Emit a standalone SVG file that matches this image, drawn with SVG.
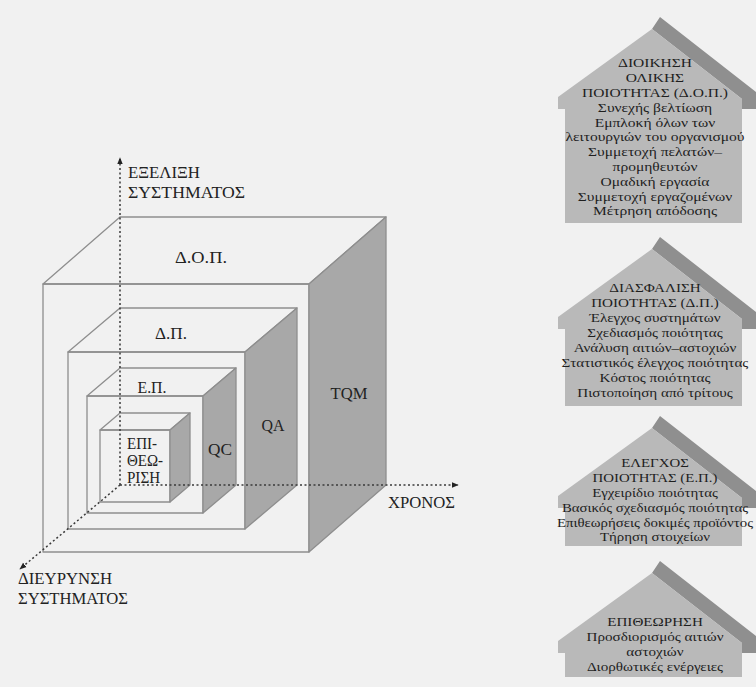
<svg xmlns="http://www.w3.org/2000/svg" width="756" height="687" viewBox="0 0 756 687">
<defs>
<style>
.bg{fill:#f1f1f1}
.edge{fill:none;stroke:#8e8e8e;stroke-width:1.3;stroke-linejoin:round}
.side{fill:#a8a8a8;stroke:#8e8e8e;stroke-width:1.3;stroke-linejoin:round}
.axis{fill:none;stroke:#3a3a3a;stroke-width:1.5;stroke-dasharray:2 2.5}
.t{font-family:"Liberation Serif","Times New Roman",serif;fill:#222}
.lab{font-size:16.5px;text-anchor:middle}
.ax{font-size:16px}
.h{font-size:13.5px;text-anchor:middle;fill:#1e1e1e}
.roofdark{fill:#8f8f8f}
.housebody{fill:#b9b9b9}
</style>
<marker id="arr" viewBox="0 0 10 10" refX="9" refY="5" markerWidth="7" markerHeight="7" orient="auto" markerUnits="userSpaceOnUse">
<path d="M0,1 L10,5 L0,9 Z" fill="#222"/>
</marker>
</defs>
<rect class="bg" x="0" y="0" width="756" height="687"/>

<g id="cube-dop">
<rect class="edge" x="43" y="284" width="266" height="268"/>
<polygon class="edge" points="43,284 120,217 386,217 309,284"/>
<polygon class="side" points="309,284 386,217 386,485 309,552"/>
<text class="t lab" x="201" y="263" textLength="52" lengthAdjust="spacingAndGlyphs">Δ.Ο.Π.</text>
<text class="t lab" x="349" y="399" textLength="37" lengthAdjust="spacingAndGlyphs">TQM</text>
</g>
<g id="cube-dp">
<rect class="edge" x="68" y="352" width="177" height="177"/>
<polygon class="edge" points="68,352 120,308 297,308 245,352"/>
<polygon class="side" points="245,352 297,308 297,485 245,529"/>
<text class="t lab" x="171" y="339" textLength="32" lengthAdjust="spacingAndGlyphs">Δ.Π.</text>
<text class="t lab" x="273" y="431" textLength="23" lengthAdjust="spacingAndGlyphs">QA</text>
</g>
<g id="cube-ep">
<rect class="edge" x="87" y="396" width="116" height="117"/>
<polygon class="edge" points="87,396 120,368 236,368 203,396"/>
<polygon class="side" points="203,396 236,368 236,485 203,513"/>
<text class="t lab" x="152" y="393" textLength="29" lengthAdjust="spacingAndGlyphs">Ε.Π.</text>
<text class="t lab" x="220" y="455" textLength="24" lengthAdjust="spacingAndGlyphs">QC</text>
</g>
<g id="cube-epitheorisi">
<rect class="edge" x="100" y="430" width="70" height="72"/>
<polygon class="edge" points="100,430 120,413 190,413 170,430"/>
<polygon class="side" points="170,430 190,413 190,485 170,502"/>
<text class="t" font-size="16" x="127" y="449" textLength="30" lengthAdjust="spacingAndGlyphs">ΕΠΙ-</text>
<text class="t" font-size="16" x="127" y="466" textLength="36" lengthAdjust="spacingAndGlyphs">ΘΕΩ-</text>
<text class="t" font-size="16" x="127" y="483" textLength="33" lengthAdjust="spacingAndGlyphs">ΡΙΣΗ</text>
</g>

<g id="connectors">
<line class="axis" x1="120" y1="485" x2="120" y2="158" marker-end="url(#arr)"/>
<line class="axis" x1="120" y1="485" x2="458" y2="485" marker-end="url(#arr)"/>
<line class="axis" x1="120" y1="485" x2="20" y2="569" marker-end="url(#arr)"/>
</g>

<g id="axis-labels">
<text class="t ax" x="128" y="178" textLength="72" lengthAdjust="spacingAndGlyphs">ΕΞΕΛΙΞΗ</text>
<text class="t ax" x="128" y="198" textLength="117" lengthAdjust="spacingAndGlyphs">ΣΥΣΤΗΜΑΤΟΣ</text>
<text class="t ax" x="388" y="508" textLength="67" lengthAdjust="spacingAndGlyphs">ΧΡΟΝΟΣ</text>
<text class="t ax" x="18" y="584" textLength="94" lengthAdjust="spacingAndGlyphs">ΔΙΕΥΡΥΝΣΗ</text>
<text class="t ax" x="18" y="604" textLength="110" lengthAdjust="spacingAndGlyphs">ΣΥΣΤΗΜΑΤΟΣ</text>
</g>

<g id="house-dop">
<polygon class="roofdark" points="652,29 660,17 756,92 756,109 742,109 742,99"/>
<polygon class="housebody" points="652,29 742,99 742,223 565,223 565,109 558,109 558,97"/>
<g transform="translate(655,0) scale(1.15,1) translate(-655,0)">
<text class="t h" x="655" y="67.5">ΔΙΟΙΚΗΣΗ</text>
<text class="t h" x="655" y="82.3">ΟΛΙΚΗΣ</text>
<text class="t h" x="655" y="97.1">ΠΟΙΟΤΗΤΑΣ (Δ.Ο.Π.)</text>
<text class="t h" x="655" y="111.9">Συνεχής βελτίωση</text>
<text class="t h" x="655" y="126.7">Εμπλοκή όλων των</text>
<text class="t h" x="655" y="141.5">λειτουργιών του οργανισμού</text>
<text class="t h" x="655" y="156.3">Συμμετοχή πελατών–</text>
<text class="t h" x="655" y="171.1">προμηθευτών</text>
<text class="t h" x="655" y="185.9">Ομαδική εργασία</text>
<text class="t h" x="655" y="200.7">Συμμετοχή εργαζομένων</text>
<text class="t h" x="655" y="215.5">Μέτρηση απόδοσης</text>
</g>
</g>

<g id="house-dp">
<polygon class="roofdark" points="652,249 660,237 756,312 756,329 742,329 742,319"/>
<polygon class="housebody" points="652,249 742,319 742,406 565,406 565,329 558,329 558,317"/>
<g transform="translate(655,0) scale(1.12,1) translate(-655,0)">
<text class="t h" x="655" y="292.5">ΔΙΑΣΦΑΛΙΣΗ</text>
<text class="t h" x="655" y="307.4">ΠΟΙΟΤΗΤΑΣ (Δ.Π.)</text>
<text class="t h" x="655" y="322.3">Έλεγχος συστημάτων</text>
<text class="t h" x="655" y="337.2">Σχεδιασμός ποιότητας</text>
<text class="t h" x="655" y="352.1">Ανάλυση αιτιών–αστοχιών</text>
<text class="t h" x="655" y="367">Στατιστικός έλεγχος ποιότητας</text>
<text class="t h" x="655" y="381.9">Κόστος ποιότητας</text>
<text class="t h" x="655" y="396.8">Πιστοποίηση από τρίτους</text>
</g>
</g>

<g id="house-ep">
<polygon class="roofdark" points="652,428 660,416 756,491 756,508 742,508 742,498"/>
<polygon class="housebody" points="652,428 742,498 742,546 565,546 565,508 558,508 558,496"/>
<g transform="translate(655,0) scale(1.1,1) translate(-655,0)">
<text class="t h" x="655" y="467.5">ΕΛΕΓΧΟΣ</text>
<text class="t h" x="655" y="482.3">ΠΟΙΟΤΗΤΑΣ (Ε.Π.)</text>
<text class="t h" x="655" y="497.1">Εγχειρίδιο ποιότητας</text>
<text class="t h" x="655" y="511.9">Βασικός σχεδιασμός ποιότητας</text>
<text class="t h" x="655" y="526.7">Επιθεωρήσεις δοκιμές προϊόντος</text>
<text class="t h" x="655" y="541.5">Τήρηση στοιχείων</text>
</g>
</g>

<g id="house-epitheorisi">
<polygon class="roofdark" points="652,573 660,561 756,636 756,653 742,653 742,643"/>
<polygon class="housebody" points="652,573 742,643 742,677 565,677 565,653 558,653 558,641"/>
<g transform="translate(655,0) scale(1.12,1) translate(-655,0)">
<text class="t h" x="655" y="626.5">ΕΠΙΘΕΩΡΗΣΗ</text>
<text class="t h" x="655" y="641.5">Προσδιορισμός αιτιών</text>
<text class="t h" x="655" y="656.5">αστοχιών</text>
<text class="t h" x="655" y="671.5">Διορθωτικές ενέργειες</text>
</g>
</g>
</svg>
